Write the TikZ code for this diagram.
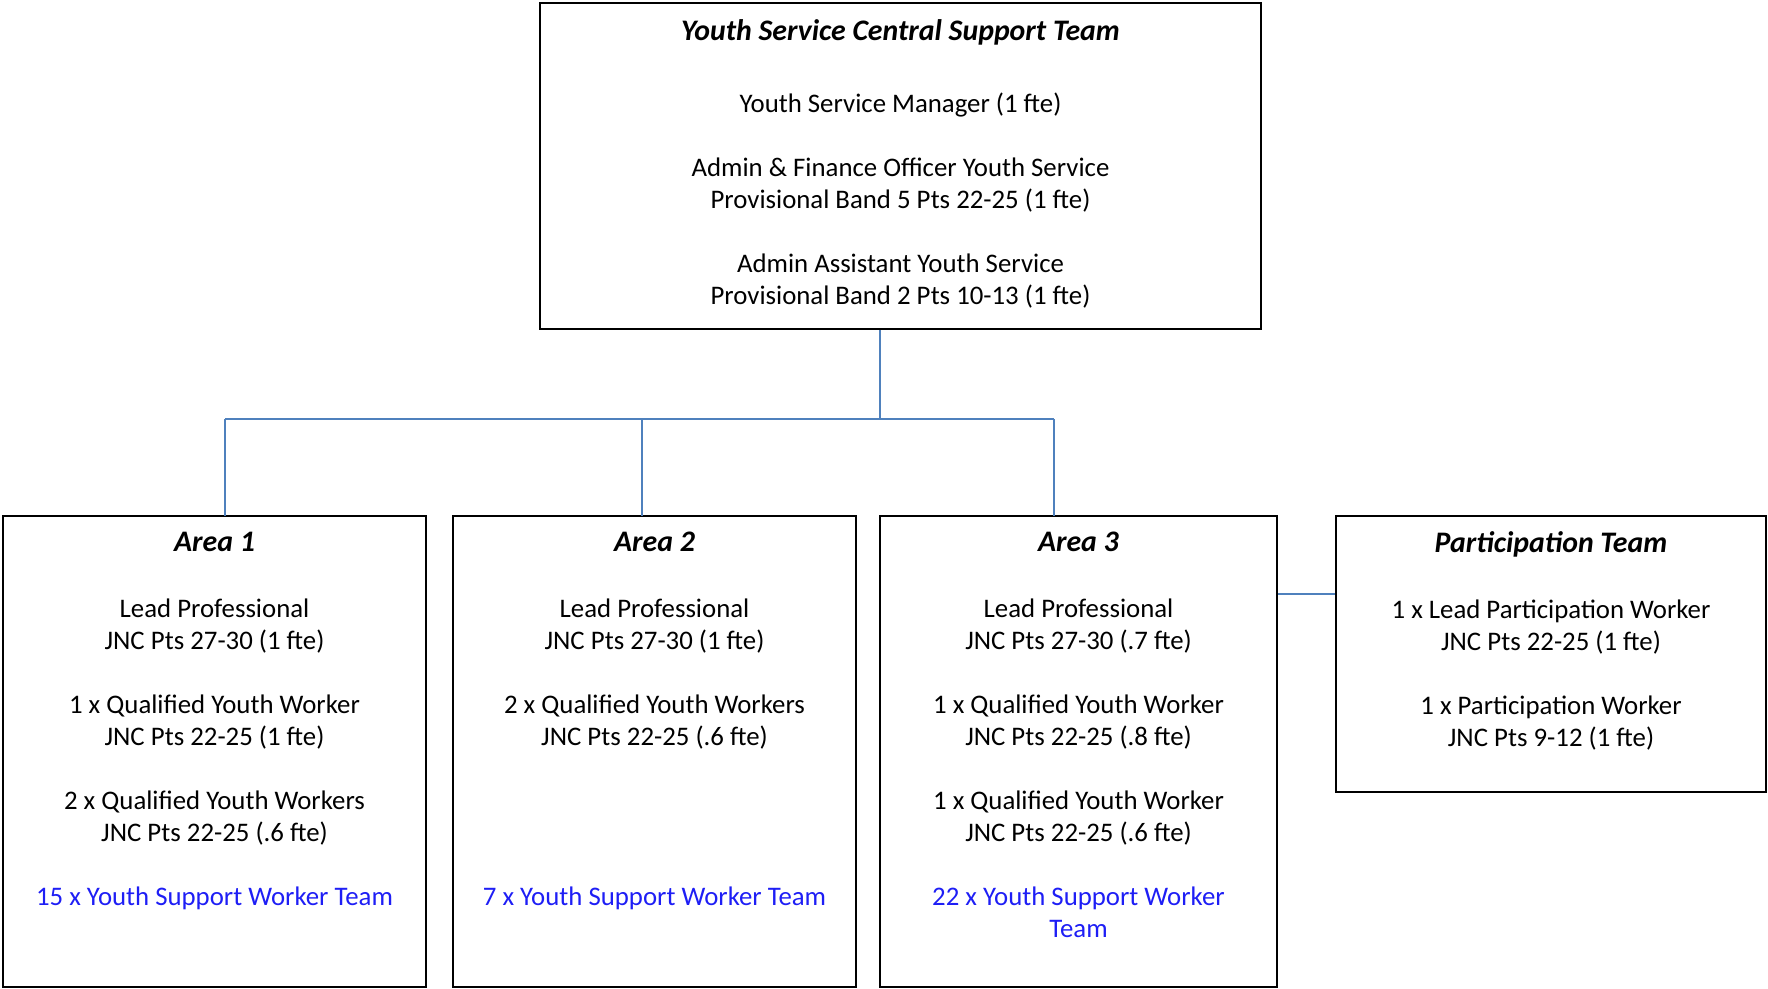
\documentclass[tikz,border=0pt]{standalone}
\usepackage{fontspec}
\setmainfont{Carlito}
\usetikzlibrary{positioning}
\definecolor{linkblue}{RGB}{79,129,189}
\definecolor{teamblue}{RGB}{30,30,245}
\tikzset{
  box/.style={draw, line width=1.1pt, inner sep=0pt},
  txt/.style={align=center, inner sep=0pt, font=\fontsize{13.4}{16}\selectfont},
  link/.style={draw=linkblue, line width=0.9pt},
}
\newcommand{\ttl}[1]{{\fontsize{14.9}{16}\selectfont\textbf{\textit{#1}}}}
\begin{document}
\begin{tikzpicture}[x=0.5pt, y=-0.5pt]
  \useasboundingbox (0,0) rectangle (1768,989);
  % central team box
  \node[box, minimum width=360.5pt, minimum height=163pt] (central) at (900.5,166) {};
  \node[txt, below=8.5pt of central.north] (centraltxt) {\ttl{Youth Service Central Support Team}\\[20pt]
    Youth Service Manager (1 fte)\\[16pt]
    Admin \& Finance Officer Youth Service\\
    Provisional Band 5 Pts 22-25 (1 fte)\\[16pt]
    Admin Assistant Youth Service\\
    Provisional Band 2 Pts 10-13 (1 fte)};
  % area boxes
  \node[box, minimum width=211.5pt, minimum height=235.5pt] (area1) at (214.5,751.5) {};
  \node[box, minimum width=201.5pt, minimum height=235.5pt] (area2) at (654.5,751.5) {};
  \node[box, minimum width=198.5pt, minimum height=235.5pt] (area3) at (1078.5,751.5) {};
  \node[box, minimum width=215pt, minimum height=138pt] (partic) at (1551,654) {};
  \node[txt, below=8.5pt of area1.north] (area1txt) {\ttl{Area 1}\\[17pt]
    Lead Professional\\
    JNC Pts 27-30 (1 fte)\\[16pt]
    1 x Qualified Youth Worker\\
    JNC Pts 22-25 (1 fte)\\[16pt]
    2 x Qualified Youth Workers\\
    JNC Pts 22-25 (.6 fte)\\[16pt]
    \textcolor{teamblue}{15 x Youth Support Worker Team}};
  \node[txt, below=8.5pt of area2.north] (area2txt) {\ttl{Area 2}\\[17pt]
    Lead Professional\\
    JNC Pts 27-30 (1 fte)\\[16pt]
    2 x Qualified Youth Workers\\
    JNC Pts 22-25 (.6 fte)\\[16pt]
    \phantom{X}\\
    \phantom{X}\\[16pt]
    \textcolor{teamblue}{7 x Youth Support Worker Team}};
  \node[txt, below=8.5pt of area3.north] (area3txt) {\ttl{Area 3}\\[17pt]
    Lead Professional\\
    JNC Pts 27-30 (.7 fte)\\[16pt]
    1 x Qualified Youth Worker\\
    JNC Pts 22-25 (.8 fte)\\[16pt]
    1 x Qualified Youth Worker\\
    JNC Pts 22-25 (.6 fte)\\[16pt]
    \textcolor{teamblue}{22 x Youth Support Worker}\\
    \textcolor{teamblue}{Team}};
  \node[txt, below=8pt of partic.north] (partictxt) {\ttl{Participation Team}\\[17pt]
    1 x Lead Participation Worker\\
    JNC Pts 22-25 (1 fte)\\[16pt]
    1 x Participation Worker\\
    JNC Pts 9-12 (1 fte)};
  % connectors
  \coordinate (hub) at (880,419);
  \coordinate (d1) at (225,516);
  \coordinate (d2) at (642,516);
  \coordinate (d3) at (1054,516);
  \coordinate (side) at (1300,594);
  \draw[link] (hub |- central.south) -- (hub);
  \draw[link] (d1 |- hub) -- (d3 |- hub);
  \draw[link] (d1 |- hub) -- (d1);
  \draw[link] (d2 |- hub) -- (d2);
  \draw[link] (d3 |- hub) -- (d3);
  \draw[link] (side -| area3.east) -- (side -| partic.west);
\end{tikzpicture}
\end{document}
